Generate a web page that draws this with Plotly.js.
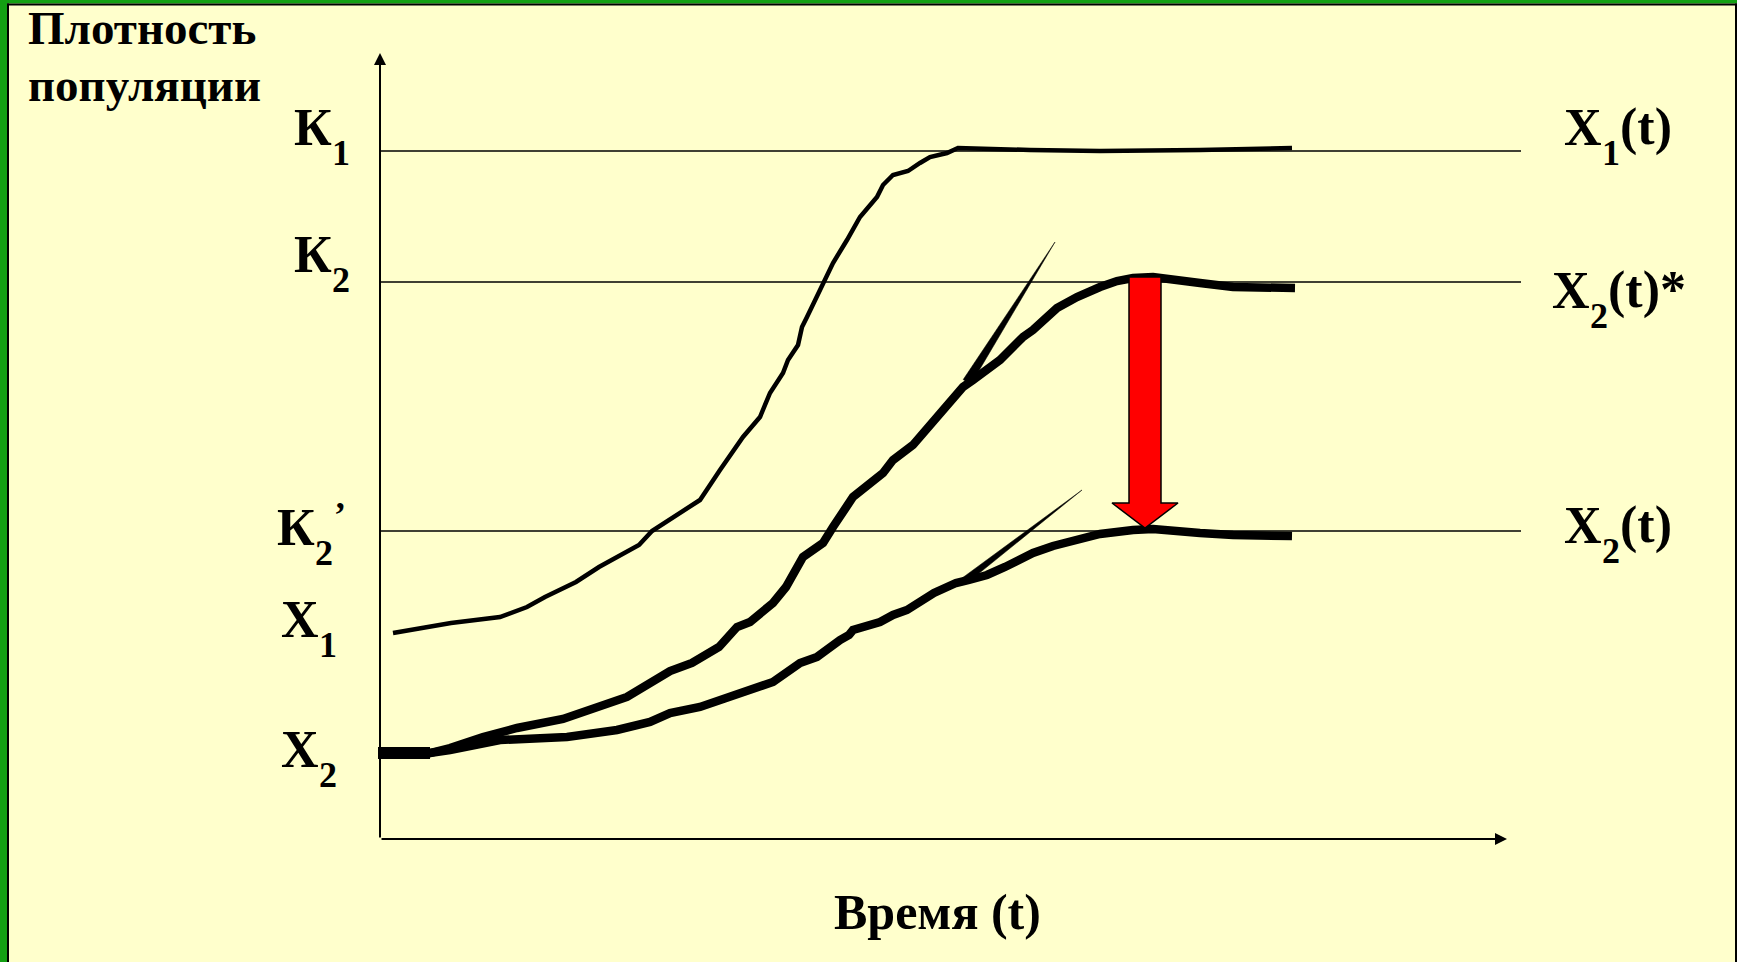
<!DOCTYPE html>
<html>
<head>
<meta charset="utf-8">
<script src="https://cdn.plot.ly/plotly-3.0.1.min.js"></script>
<style>
  html, body { margin: 0; padding: 0; background: #FFFFCC; }
  #chart { width: 1737px; height: 962px; }
</style>
</head>
<body>
<div id="chart"></div>
<script>
// ---- data (time t, population density N) ----
const x1T = [0.13,0.71,1.20,1.47,1.65,1.96,2.19,2.59,2.72,2.86,3.20,3.40,3.63,3.80,3.87,3.90,4.03,4.08,4.18,4.22,4.27,4.35,4.43,4.53,4.67,4.75,4.80,4.97,5.03,5.13,5.28,5.40,5.50,5.67,5.78,6.50,7.20,8.20,9.12];
const x1N = [2.06,2.16,2.22,2.32,2.42,2.57,2.72,2.94,3.08,3.17,3.39,3.69,4.02,4.22,4.39,4.46,4.66,4.79,4.94,5.12,5.22,5.39,5.57,5.76,5.99,6.12,6.22,6.42,6.54,6.64,6.68,6.76,6.82,6.86,6.91,6.89,6.88,6.89,6.91];

const x2StarT = [-0.02,0.50,0.70,1.03,1.37,1.83,2.47,2.72,2.90,3.12,3.39,3.57,3.70,3.93,4.06,4.23,4.43,4.53,4.67,4.73,5.03,5.13,5.33,5.60,5.83,5.93,6.07,6.20,6.43,6.53,6.77,6.97,7.20,7.37,7.53,7.73,8.20,8.53,9.15];
const x2StarN = [0.86,0.86,0.91,1.02,1.11,1.20,1.42,1.56,1.68,1.76,1.92,2.12,2.17,2.36,2.52,2.82,2.96,3.12,3.32,3.42,3.66,3.79,3.94,4.26,4.52,4.59,4.69,4.79,5.02,5.09,5.31,5.42,5.52,5.58,5.61,5.62,5.56,5.52,5.51];

const x2T = [-0.02,0.50,0.70,1.20,1.87,2.37,2.70,2.90,3.20,3.39,3.57,3.93,4.20,4.37,4.60,4.69,4.73,5.00,5.13,5.27,5.54,5.76,5.89,6.07,6.25,6.53,6.73,7.00,7.20,7.53,7.73,8.20,8.53,9.12];
const x2N = [0.86,0.86,0.89,0.99,1.02,1.09,1.17,1.26,1.32,1.39,1.46,1.57,1.76,1.82,1.99,2.04,2.09,2.17,2.24,2.29,2.46,2.56,2.59,2.64,2.72,2.86,2.93,3.01,3.05,3.09,3.10,3.06,3.04,3.03];

// tangents (start -> end)
const tanStarT = [5.87, 6.75];
const tanStarN = [4.57, 5.97];
const tanLowT  = [5.84, 7.02];
const tanLowN  = [2.58, 3.49];

// carrying capacities
const levelValues = [6.88, 5.57, 3.08];
const levelEndT = 11.41;

// red arrow: from K2 down to K2'
const arrowT = 7.65;
const arrowFromN = 5.62;
const arrowToN = 3.11;

const axisMaxT = 11.27;
const axisMaxN = 7.86;

// label texts: [main, subscript, superscript, rest]
const leftLabels = [
  ['К', '1', '', ''],
  ['К', '2', '', ''],
  ['К', '2', '’', ''],
  ['X', '1', '', ''],
  ['X', '2', '', '']
];
const rightLabels = [
  ['X', '1', '', '(t)'],
  ['X', '2', '', '(t)*'],
  ['X', '2', '', '(t)']
];
const yTitle = ['Плотность', 'популяции'];
const xTitle = 'Время (t)';

// ---- layout helpers ----
const W = 1737, H = 962;
const PL = 360, PR = 1530, PT = 39, PB = 839;
const fx = px => (px - PL) / (PR - PL);
const fy = py => (PB - py) / (PB - PT);

const FONT = 'Liberation Serif, Times New Roman, serif';
const MAIN = 52, SUBSZ = 36;

const ctx = document.createElement('canvas').getContext('2d');
function tw(text, size) {
  ctx.font = 'bold ' + size + 'px "Liberation Serif", "Times New Roman", serif';
  return ctx.measureText(text).width;
}

function wedge(t0, n0, t1, n1, half) {
  const dx = t1 - t0, dy = n1 - n0, len = Math.hypot(dx, dy);
  const nx = -dy / len * half, ny = dx / len * half;
  return { x: [t0 + nx, t1, t0 - nx, t0 + nx], y: [n0 + ny, n1, n0 - ny, n0 + ny] };
}

const wS = wedge(tanStarT[0], tanStarN[0], tanStarT[1], tanStarN[1], 0.045);
const wL = wedge(tanLowT[0], tanLowN[0], tanLowT[1], tanLowN[1], 0.035);

const sh = 0.16, hh = 0.33, hl = 0.25;
const arrowX = [arrowT - sh, arrowT + sh, arrowT + sh, arrowT + hh, arrowT, arrowT - hh, arrowT - sh, arrowT - sh];
const arrowY = [arrowFromN, arrowFromN, arrowToN + hl, arrowToN + hl, arrowToN, arrowToN + hl, arrowToN + hl, arrowFromN];

const traces = [
  { x: x1T, y: x1N, mode: 'lines', line: { color: '#000', width: 4.5 }, hoverinfo: 'skip' },
  { x: x2StarT, y: x2StarN, mode: 'lines', line: { color: '#000', width: 8.5 }, hoverinfo: 'skip' },
  { x: x2T, y: x2N, mode: 'lines', line: { color: '#000', width: 8.5 }, hoverinfo: 'skip' },
  { x: x2T.slice(0, 2), y: x2N.slice(0, 2), mode: 'lines', line: { color: '#000', width: 12 }, hoverinfo: 'skip' },
  { x: wS.x, y: wS.y, mode: 'lines', fill: 'toself', fillcolor: '#000', line: { color: '#000', width: 0.5 }, hoverinfo: 'skip' },
  { x: wL.x, y: wL.y, mode: 'lines', fill: 'toself', fillcolor: '#000', line: { color: '#000', width: 0.5 }, hoverinfo: 'skip' },
  { x: arrowX, y: arrowY, mode: 'lines', fill: 'toself', fillcolor: '#FF0000', line: { color: '#000', width: 1.5 }, hoverinfo: 'skip' }
];

const shapes = [];
levelValues.forEach(v => {
  shapes.push({ type: 'line', xref: 'x', yref: 'y', x0: 0, x1: levelEndT, y0: v, y1: v,
    line: { color: '#000', width: 1.5 }, layer: 'below' });
});
// frame
const GREEN = '#13A013';
shapes.push({ type: 'rect', xref: 'paper', yref: 'paper', x0: fx(0), x1: fx(7), y0: fy(H), y1: fy(0), fillcolor: GREEN, line: { width: 0 } });
shapes.push({ type: 'rect', xref: 'paper', yref: 'paper', x0: fx(0), x1: fx(W), y0: fy(3.5), y1: fy(0), fillcolor: GREEN, line: { width: 0 } });
shapes.push({ type: 'rect', xref: 'paper', yref: 'paper', x0: fx(7), x1: fx(9), y0: fy(H), y1: fy(3.5), fillcolor: '#000', line: { width: 0 } });
shapes.push({ type: 'rect', xref: 'paper', yref: 'paper', x0: fx(7), x1: fx(W), y0: fy(5.5), y1: fy(3.5), fillcolor: '#000', line: { width: 0 } });
shapes.push({ type: 'rect', xref: 'paper', yref: 'paper', x0: fx(1735), x1: fx(W), y0: fy(H), y1: fy(3.5), fillcolor: '#000', line: { width: 0 } });

// text placed by its left edge and its baseline (px); baseline ~ centre + 0.34 em
function txt(text, pxLeft, baseline, size) {
  return { text: '<b>' + text + '</b>', xref: 'paper', yref: 'paper',
    x: fx(pxLeft), y: fy(baseline - 0.34 * size), xanchor: 'left', yanchor: 'middle',
    showarrow: false, borderpad: 0, borderwidth: 0,
    font: { family: FONT, size: size, color: '#000' } };
}
function subLabel(parts, pxLeft, baseline) {
  const [m, s, sup, rest] = parts;
  const out = [txt(m, pxLeft, baseline, MAIN)];
  const xs = pxLeft + tw(m, MAIN);
  out.push(txt(s, xs, baseline + 20, SUBSZ));
  const xr = xs + tw(s, SUBSZ);
  if (sup) out.push(txt(sup, xr + 1, baseline - 18, SUBSZ));
  if (rest) out.push(txt(rest, xr, baseline, MAIN));
  return out;
}

const leftPos = [[294, 145], [294, 272], [277, 545], [281, 637], [281, 767]];
const rightPos = [[1564, 145], [1552, 308], [1564, 543]];

let annotations = [
  // axes with arrows
  { x: 0, y: axisMaxN, xref: 'x', yref: 'y', ax: 0, ay: axisMaxN * 100, text: '', showarrow: true,
    arrowhead: 2, arrowsize: 1.2, arrowwidth: 2, arrowcolor: '#000', standoff: 0 },
  { x: axisMaxT, y: 0, xref: 'x', yref: 'y', ax: -axisMaxT * 100, ay: 0, text: '', showarrow: true,
    arrowhead: 2, arrowsize: 1.2, arrowwidth: 2, arrowcolor: '#000', standoff: 0 },
  // titles
  { text: '<b>' + yTitle[0] + '</b>', xref: 'paper', yref: 'paper', x: fx(26), y: fy(0),
    xanchor: 'left', yanchor: 'top', showarrow: false, font: { family: FONT, size: 47, color: '#000' } },
  { text: '<b>' + yTitle[1] + '</b>', xref: 'paper', yref: 'paper', x: fx(26), y: fy(56.5),
    xanchor: 'left', yanchor: 'top', showarrow: false, font: { family: FONT, size: 47, color: '#000' } },
  { text: '<b>' + xTitle + '</b>', xref: 'paper', yref: 'paper', x: fx(937), y: fy(912),
    xanchor: 'center', yanchor: 'middle', showarrow: false, font: { family: FONT, size: 50, color: '#000' } }
];
leftLabels.forEach((p, i) => { annotations = annotations.concat(subLabel(p, leftPos[i][0], leftPos[i][1])); });
rightLabels.forEach((p, i) => { annotations = annotations.concat(subLabel(p, rightPos[i][0], rightPos[i][1])); });

const layout = {
  width: W, height: H,
  margin: { l: PL, r: W - PR, t: PT, b: H - PB, pad: 0 },
  paper_bgcolor: '#FFFFCC', plot_bgcolor: 'rgba(0,0,0,0)',
  showlegend: false, hovermode: false,
  xaxis: { range: [-0.2, 11.5], visible: false, fixedrange: true },
  yaxis: { range: [0, 8.0], visible: false, fixedrange: true },
  shapes: shapes, annotations: annotations
};

Plotly.newPlot('chart', traces, layout, { displayModeBar: false, staticPlot: true });
</script>
</body>
</html>
